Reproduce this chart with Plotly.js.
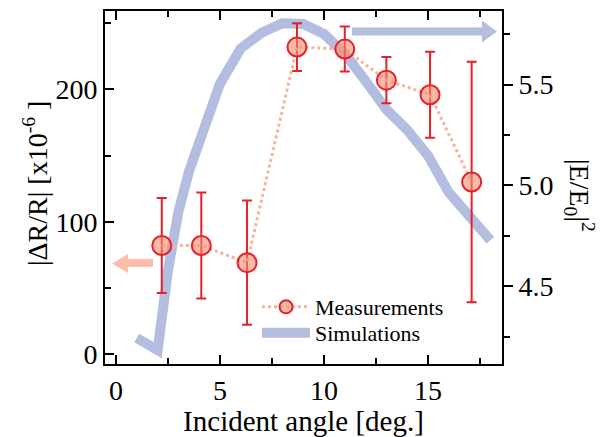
<!DOCTYPE html>
<html>
<head>
<meta charset="utf-8">
<script src="https://cdn.plot.ly/plotly-3.0.1.min.js"></script>
<style>html,body{margin:0;padding:0;background:#fff;}#chart{width:604px;height:437px;}</style>
</head>
<body>
<div id="chart"></div>
<script>
// Measurements (left axis, |ΔR/R| x10^-6)
const measAngle = [2.2, 4.1, 6.3, 8.7, 11.0, 13.0, 15.1, 17.1];
const measValue = [82, 82, 69, 232, 230.5, 207, 196, 130];
const measError = [36, 40, 47, 18, 17, 17.5, 32.5, 91];

// Simulations (right axis, |E/E0|^2)
const simAngle = [1, 2, 2.5, 3, 3.5, 4, 5, 6, 7, 8, 9, 10, 11, 12, 13, 14, 15, 16, 17, 18];
const simValue = [4.245, 4.185, 4.58, 4.87, 5.067, 5.225, 5.504, 5.679, 5.756, 5.803, 5.80, 5.75, 5.653, 5.517, 5.377, 5.275, 5.148, 4.966, 4.846, 4.729];

const xTicks = [0, 5, 10, 15];
const leftTicks = [0, 100, 200];
const rightTicks = [4.5, 5.0, 5.5];

const FONT = "Liberation Serif, Times New Roman, serif";
const W = 604, H = 437, ML = 105, MR = 102, MT = 11, MB = 73;
const PW = W - ML - MR, PH = H - MT - MB;
const px = v => (v - ML) / PW;
const py = v => (H - MB - v) / PH;
function poly(pts) {
  return 'M' + pts.map(p => px(p[0]).toFixed(4) + ',' + py(p[1]).toFixed(4)).join('L') + 'Z';
}

const traces = [
  {
    x: simAngle, y: simValue, yaxis: 'y', type: 'scatter', mode: 'lines',
    line: {color: '#b3bde0', width: 10}, showlegend: false, hoverinfo: 'skip'
  },
  {
    x: measAngle, y: measValue, yaxis: 'y2', type: 'scatter', mode: 'lines+markers',
    line: {color: '#f6b49c', width: 3, dash: 'dot'},
    marker: {size: 19, color: 'rgba(245,140,110,0.6)', line: {color: '#e8202a', width: 2}},
    error_y: {type: 'data', array: measError, visible: true, color: '#e8202a', thickness: 2, width: 5},
    showlegend: false
  },
  {
    x: [null], y: [null], yaxis: 'y2', type: 'scatter', mode: 'lines+markers', name: 'Measurements',
    legend: 'legend',
    line: {color: '#f6b49c', width: 3, dash: 'dot'},
    marker: {size: 13, color: 'rgba(245,140,110,0.6)', line: {color: '#e8202a', width: 2}}
  },
  {
    x: [null], y: [null], yaxis: 'y', type: 'scatter', mode: 'lines', name: 'Simulations',
    legend: 'legend2',
    line: {color: '#b3bde0', width: 10}
  }
];

const axisCommon = {
  showline: true, linecolor: '#000', linewidth: 2, showgrid: false, zeroline: false,
  tickcolor: '#000', tickwidth: 2, tickfont: {family: FONT, size: 28, color: '#000'}
};

const legendCommon = {
  xanchor: 'left', yanchor: 'middle', bgcolor: 'rgba(0,0,0,0)',
  font: {family: FONT, size: 22, color: '#000'}, itemwidth: 48
};

const layout = {
  width: W, height: H,
  margin: {l: ML, r: MR, t: MT, b: MB},
  paper_bgcolor: '#fff', plot_bgcolor: 'rgba(0,0,0,0)',
  showlegend: true,
  legend: Object.assign({}, legendCommon, {x: px(257), y: py(307)}),
  legend2: Object.assign({}, legendCommon, {x: px(257), y: py(333)}),
  xaxis: Object.assign({}, axisCommon, {
    range: [-0.53, 18.56], tickmode: 'array', tickvals: xTicks,
    ticks: 'inside', ticklen: 9, mirror: 'ticks',
    minor: {dtick: 2.5, tick0: 0, ticks: 'inside', ticklen: 6, tickwidth: 2, tickcolor: '#000'},
    title: {text: 'Incident angle [deg.]', font: {family: FONT, size: 29, color: '#000'}, standoff: 0}
  }),
  yaxis: Object.assign({}, axisCommon, {
    side: 'right', range: [4.116, 5.864], tickmode: 'array', tickvals: rightTicks,
    tickformat: '.1f', ticks: 'outside', ticklen: 9,
    minor: {dtick: 0.25, tick0: 4, ticks: 'outside', ticklen: 6, tickwidth: 2, tickcolor: '#000'}
  }),
  yaxis2: Object.assign({}, axisCommon, {
    overlaying: 'y', side: 'left', range: [-7.6, 259.3], tickmode: 'array', tickvals: leftTicks,
    ticks: 'inside', ticklen: 9,
    minor: {dtick: 50, tick0: 0, ticks: 'inside', ticklen: 6, tickwidth: 2, tickcolor: '#000'}
  }),
  annotations: [
    {
      xref: 'paper', yref: 'paper', x: px(35), y: py(184), xanchor: 'center', yanchor: 'middle',
      text: '|ΔR/R| [x10<sup>-6</sup> ]', textangle: -90, showarrow: false,
      font: {family: FONT, size: 28, color: '#000'}
    },
    {
      xref: 'paper', yref: 'paper', x: px(580), y: py(195), xanchor: 'center', yanchor: 'middle',
      text: '|E/E<sub>0</sub>|<sup>2</sup>', textangle: 90, showarrow: false,
      font: {family: FONT, size: 28, color: '#000'}
    }
  ],
  shapes: [
    {type: 'path', xref: 'paper', yref: 'paper', fillcolor: '#fbbfa9', line: {width: 0},
     path: poly([[153, 259], [128, 259], [128, 254], [112, 263.5], [128, 273], [128, 267], [153, 267]])},
    {type: 'path', xref: 'paper', yref: 'paper', fillcolor: '#b4bedf', line: {width: 0},
     path: poly([[352, 27.5], [482, 27.5], [482, 20.5], [497, 31.5], [482, 42.5], [482, 35.5], [352, 35.5]])}
  ]
};

Plotly.newPlot('chart', traces, layout, {displayModeBar: false, staticPlot: true});
</script>
</body>
</html>
